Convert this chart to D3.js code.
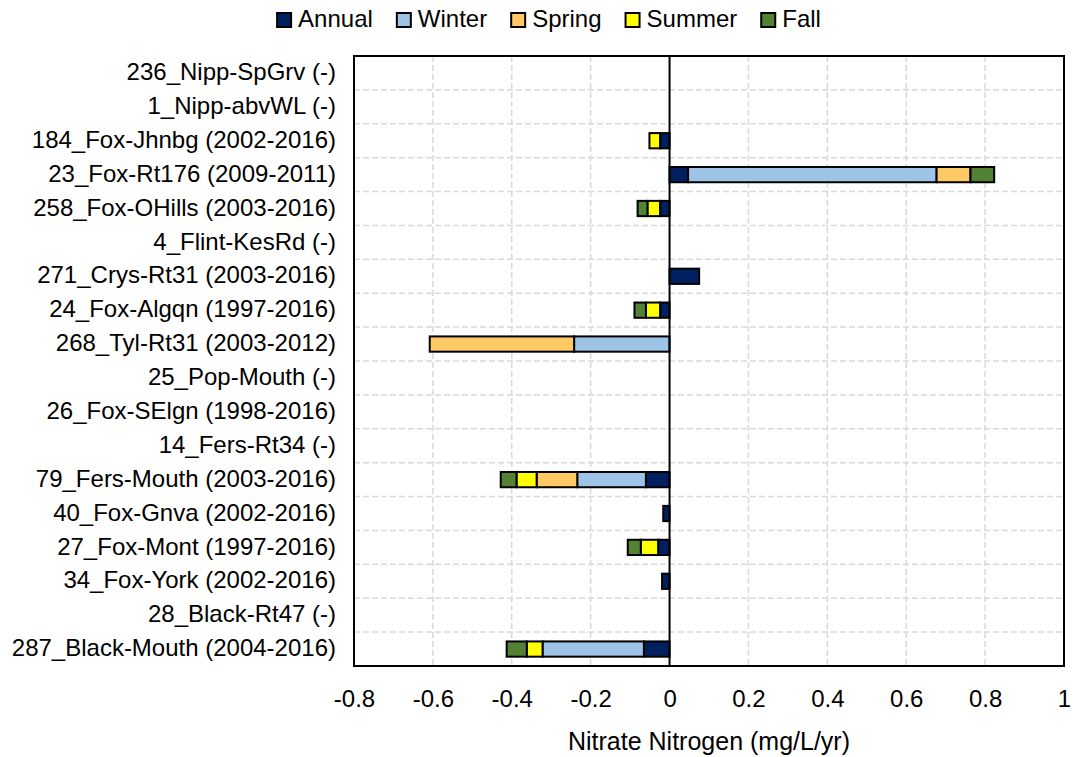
<!DOCTYPE html>
<html><head><meta charset="utf-8">
<script src="https://cdn.jsdelivr.net/npm/d3@7"></script>
<style>body{margin:0;background:#fff}svg{display:block}text{font-family:"Liberation Sans",Arial,sans-serif;fill:#000}</style>
</head><body><svg id="c" width="1073" height="757"></svg>
<script>
const categories = ["236_Nipp-SpGrv (-)","1_Nipp-abvWL (-)","184_Fox-Jhnbg (2002-2016)","23_Fox-Rt176 (2009-2011)","258_Fox-OHills (2003-2016)","4_Flint-KesRd (-)","271_Crys-Rt31 (2003-2016)","24_Fox-Algqn (1997-2016)","268_Tyl-Rt31 (2003-2012)","25_Pop-Mouth (-)","26_Fox-SElgn (1998-2016)","14_Fers-Rt34 (-)","79_Fers-Mouth (2003-2016)","40_Fox-Gnva (2002-2016)","27_Fox-Mont (1997-2016)","34_Fox-York (2002-2016)","28_Black-Rt47 (-)","287_Black-Mouth (2004-2016)"];
const seriesNames = ["Annual","Winter","Spring","Summer","Fall"];
const annual = [0,0,-0.024,0.047,-0.024,0,0.075,-0.024,0,0,0,0,-0.060,-0.016,-0.029,-0.019,0,-0.065];
const winter = [0,0,0,0.630,0,0,0,0,-0.242,0,0,0,-0.174,0,0,0,0,-0.257];
const spring = [0,0,0,0.086,0,0,0,0,-0.366,0,0,0,-0.103,0,0,0,0,0];
const summer = [0,0,-0.027,0,-0.032,0,0,-0.036,0,0,0,0,-0.051,0,-0.044,0,0,-0.040];
const fall   = [0,0,0,0.060,-0.025,0,0,-0.029,0,0,0,0,-0.040,0,-0.033,0,0,-0.051];
const xTicks = [-0.8,-0.6,-0.4,-0.2,0,0.2,0.4,0.6,0.8,1];
const colors = ["#002060","#9DC3E6","#FFC966","#FFFF00","#548235"];

const svg = d3.select("#c");
const L = 354, R = 1064, T = 56, B = 666;
const fs = 24;
const x = d3.scaleLinear().domain([-0.8,1]).range([L,R]);
const y = d3.scaleBand().domain(categories).range([T,B]).padding(0);

const rows = categories.map((c,i)=>({cat:c, Annual:annual[i], Winter:winter[i], Spring:spring[i], Summer:summer[i], Fall:fall[i]}));
const stack = d3.stack().keys(seriesNames).offset(d3.stackOffsetDiverging)(rows);

// gridlines
const g = svg.append("g");
g.selectAll(".vg").data(xTicks.filter(t=>t>-0.8 && t<1 && t!==0)).join("line")
  .attr("x1",d=>x(d)).attr("x2",d=>x(d)).attr("y1",T).attr("y2",B)
  .attr("stroke","#d9d9d9").attr("stroke-width",1.5).attr("stroke-dasharray","6,3");
g.selectAll(".hg").data(categories.slice(1)).join("line")
  .attr("x1",L).attr("x2",R).attr("y1",d=>y(d)).attr("y2",d=>y(d))
  .attr("stroke","#d9d9d9").attr("stroke-width",1.5).attr("stroke-dasharray","6,3");

// bars
const bh = y.bandwidth()*0.45;
stack.forEach((s,k)=>{
  svg.append("g").selectAll("rect").data(s.filter(d=>d[1]!==d[0])).join("rect")
    .attr("x",d=>x(Math.min(d[0],d[1]))).attr("width",d=>Math.abs(x(d[1])-x(d[0])))
    .attr("y",d=>y(d.data.cat)+(y.bandwidth()-bh)/2).attr("height",bh)
    .attr("fill",colors[k]).attr("stroke","#000").attr("stroke-width",2);
});

// zero axis line & border
svg.append("line").attr("x1",x(0)).attr("x2",x(0)).attr("y1",T).attr("y2",B).attr("stroke","#000").attr("stroke-width",2);
svg.append("rect").attr("x",L).attr("y",T).attr("width",R-L).attr("height",B-T).attr("fill","none").attr("stroke","#000").attr("stroke-width",2);

// category labels
const yAxis = d3.axisLeft(y).tickSize(0).tickPadding(18);
const ya = svg.append("g").attr("transform",`translate(${L},0)`).call(yAxis);
ya.select(".domain").remove();
ya.selectAll("text").attr("font-size",fs).attr("font-family","Liberation Sans").attr("fill","#000").attr("dy","0.3em");

// x axis labels
const xAxis = d3.axisBottom(x).tickValues(xTicks).tickSize(0).tickPadding(24).tickFormat(d=>String(d));
const xa = svg.append("g").attr("transform",`translate(0,${B})`).call(xAxis);
xa.select(".domain").remove();
xa.selectAll("text").attr("font-size",fs).attr("font-family","Liberation Sans").attr("fill","#000");

svg.append("text").attr("x",(L+R)/2).attr("y",743).attr("text-anchor","middle").attr("dominant-baseline","middle")
  .attr("font-size",25).text("Nitrate Nitrogen (mg/L/yr)");

// legend
const lg = svg.append("g");
let cx = 0;
seriesNames.forEach((n,i)=>{
  const it = lg.append("g");
  it.append("rect").attr("x",0).attr("y",-7).attr("width",14).attr("height",14).attr("fill",colors[i]).attr("stroke","#000").attr("stroke-width",2);
  const t = it.append("text").attr("x",21).attr("y",1).attr("dominant-baseline","middle").attr("font-size",fs).text(n);
  const w = 21 + t.node().getComputedTextLength();
  it.attr("transform",`translate(${cx},20)`);
  cx += w + 24;
});
const total = cx - 24;
lg.attr("transform",`translate(${549 - total/2},0)`);
</script></body></html>
